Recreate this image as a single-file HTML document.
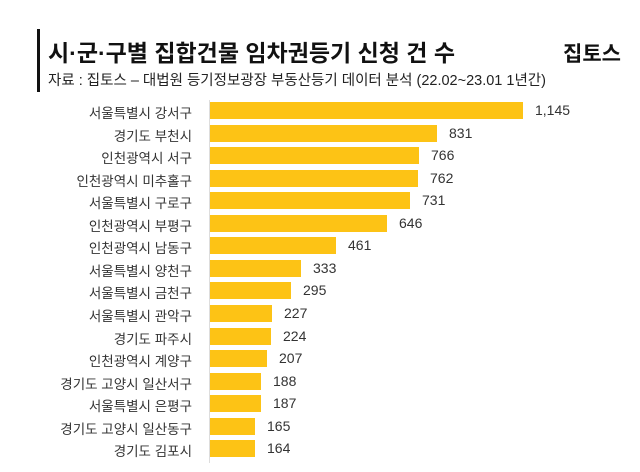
<!DOCTYPE html>
<html><head><meta charset="utf-8"><style>
body{margin:0;width:640px;height:472px;background:#fff;overflow:hidden;font-family:"Liberation Sans","Noto Sans CJK KR",sans-serif;color:#222;position:relative}
.vbar{position:absolute;left:37px;top:29px;width:3px;height:63px;background:#111}
.t{position:absolute;left:48px;top:34px;font-size:23px;font-weight:bold;color:#111;white-space:nowrap}
.s{position:absolute;left:48px;top:69px;font-size:14.5px;color:#222;white-space:nowrap}
.logo{position:absolute;left:563px;top:38px;font-size:21px;font-weight:bold;color:#111}
.axis{position:absolute;left:209px;top:100px;width:1px;height:363px;background:#ddd}
.r{position:absolute;left:0;height:22px;width:640px}
.l{position:absolute;right:448px;top:2px;font-size:13.5px;color:#333;white-space:nowrap}
.b{position:absolute;left:210px;top:2px;height:17px;background:#fdc315}
.v{position:absolute;top:2px;font-size:14px;color:#333}
</style></head><body>
<div class="vbar"></div>
<div class="t">시·군·구별 집합건물 임차권등기 신청 건 수</div>
<div class="s">자료 : 집토스 – 대법원 등기정보광장 부동산등기 데이터 분석 (22.02~23.01 1년간)</div>
<div class="logo">집토스</div>
<div class="axis"></div>
<div id="c"></div>
<script>
var d=[["서울특별시 강서구",1145],["경기도 부천시",831],["인천광역시 서구",766],["인천광역시 미추홀구",762],["서울특별시 구로구",731],["인천광역시 부평구",646],["인천광역시 남동구",461],["서울특별시 양천구",333],["서울특별시 금천구",295],["서울특별시 관악구",227],["경기도 파주시",224],["인천광역시 계양구",207],["경기도 고양시 일산서구",188],["서울특별시 은평구",187],["경기도 고양시 일산동구",165],["경기도 김포시",164]];
var h="";d.forEach(function(e,i){var w=Math.round(e[1]*0.2734);var y=100+i*22.55;
h+='<div class="r" style="top:'+y+'px"><div class="l">'+e[0]+'</div><div class="b" style="width:'+w+'px"></div><div class="v" style="left:'+(210+w+12)+'px">'+e[1].toLocaleString("en-US")+'</div></div>';});
document.getElementById("c").innerHTML=h;
</script>
</body></html>
